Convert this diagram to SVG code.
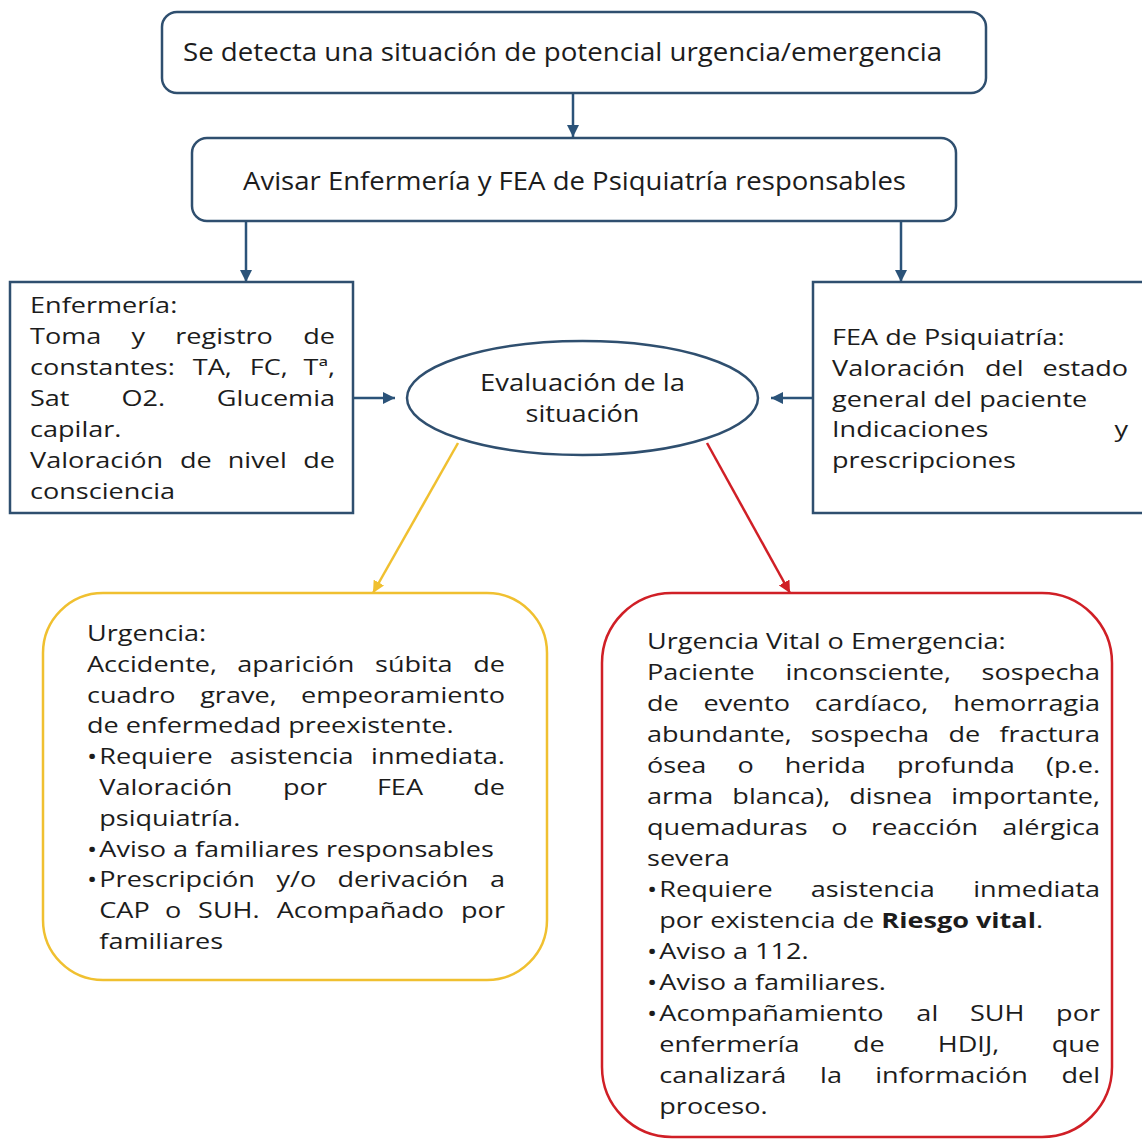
<svg xmlns="http://www.w3.org/2000/svg" width="1142" height="1147" viewBox="0 0 1142 1147">
<style>
.t{font-family:"Open Sans","Liberation Sans",sans-serif;font-size:22px;fill:#1c1c1c}
.h{font-family:"Open Sans","Liberation Sans",sans-serif;font-size:25px;fill:#1c1c1c}
.el{font-family:"Open Sans","Liberation Sans",sans-serif;font-size:23px;fill:#1c1c1c;text-anchor:middle}
.e{text-anchor:end}
.bd{font-weight:bold}
.blue{fill:#fff;stroke:#2f4f6f;stroke-width:2.5}
.conn{fill:none;stroke-width:2.5}
</style>
<defs>
<marker id="ab" markerUnits="userSpaceOnUse" markerWidth="12" markerHeight="12" refX="12" refY="6" orient="auto"><path d="M0,0 L12,6 L0,12 z" fill="#2b5379"/></marker>
<marker id="ay" markerUnits="userSpaceOnUse" markerWidth="12" markerHeight="12" refX="12" refY="6" orient="auto"><path d="M0,0 L12,6 L0,12 z" fill="#f0c030"/></marker>
<marker id="ar" markerUnits="userSpaceOnUse" markerWidth="12" markerHeight="12" refX="12" refY="6" orient="auto"><path d="M0,0 L12,6 L0,12 z" fill="#d01f26"/></marker>
</defs>
<rect width="1142" height="1147" fill="#fff"/>

<g id="connectors">
<line class="conn" x1="573" y1="93" x2="573" y2="137" stroke="#2b5379" marker-end="url(#ab)"/>
<line class="conn" x1="246" y1="221" x2="246" y2="282" stroke="#2b5379" marker-end="url(#ab)"/>
<line class="conn" x1="901" y1="221" x2="901" y2="282" stroke="#2b5379" marker-end="url(#ab)"/>
<line class="conn" x1="353" y1="398" x2="395" y2="398" stroke="#2b5379" marker-end="url(#ab)"/>
<line class="conn" x1="813" y1="398" x2="771" y2="398" stroke="#2b5379" marker-end="url(#ab)"/>
<line class="conn" x1="458" y1="443" x2="373" y2="593" stroke="#f0c030" marker-end="url(#ay)"/>
<line class="conn" x1="707" y1="443" x2="790" y2="593" stroke="#d01f26" marker-end="url(#ar)"/>
</g>

<g id="detecta">
<rect class="blue" x="162" y="12" width="824" height="81" rx="15"/>
<text class="h" x="183" y="61" textLength="759" lengthAdjust="spacingAndGlyphs">Se detecta una situación de potencial urgencia/emergencia</text>
</g>

<g id="avisar">
<rect class="blue" x="192" y="138" width="764" height="83" rx="15"/>
<text class="h" x="243" y="190" textLength="663" lengthAdjust="spacingAndGlyphs">Avisar Enfermería y FEA de Psiquiatría responsables</text>
</g>

<g id="enfermeria">
<rect class="blue" x="10" y="282" width="343" height="231"/>
<g class="t" transform="translate(30,0) scale(1.23,1)">
<text x="0" y="313">Enfermería:</text>
<text y="344"><tspan x="0">Toma</tspan><tspan x="82.5">y</tspan><tspan x="118.1">registro</tspan></text>
<text class="e" x="248" y="344">de</text>
<text y="375"><tspan x="0">constantes:</tspan><tspan x="132.4">TA,</tspan><tspan x="178.6">FC,</tspan></text>
<text class="e" x="248" y="375">Tª,</text>
<text y="406"><tspan x="0">Sat</tspan><tspan x="74.3">O2.</tspan></text>
<text class="e" x="248" y="406">Glucemia</text>
<text x="0" y="437">capilar.</text>
<text y="468"><tspan x="0">Valoración</tspan><tspan x="121.9">de</tspan><tspan x="160.8">nivel</tspan></text>
<text class="e" x="248" y="468">de</text>
<text x="0" y="499">consciencia</text>
</g>
</g>

<g id="evaluacion">
<ellipse cx="582.5" cy="398" rx="175.5" ry="57" fill="#fff" stroke="#2f4f6f" stroke-width="2.5"/>
<text class="el" x="582.5" y="391" textLength="205" lengthAdjust="spacingAndGlyphs">Evaluación de la</text>
<text class="el" x="582.5" y="422" textLength="114" lengthAdjust="spacingAndGlyphs">situación</text>
</g>

<g id="fea">
<rect class="blue" x="813" y="282" width="340" height="231"/>
<g class="t" transform="translate(832,0) scale(1.23,1)">
<text x="0" y="345">FEA de Psiquiatría:</text>
<text y="376"><tspan x="0">Valoración</tspan><tspan x="124.3">del</tspan></text>
<text class="e" x="240.7" y="376">estado</text>
<text x="0" y="407">general del paciente</text>
<text x="0" y="437">Indicaciones</text>
<text class="e" x="240.7" y="437">y</text>
<text x="0" y="468">prescripciones</text>
</g>
</g>

<g id="urgencia">
<rect x="43" y="593" width="504" height="387" rx="60" fill="#fff" stroke="#f0c030" stroke-width="2.5"/>
<g class="t" transform="translate(87,0) scale(1.23,1)">
<text x="0" y="641">Urgencia:</text>
<text y="672"><tspan x="0">Accidente,</tspan><tspan x="122.1">aparición</tspan><tspan x="234.2">súbita</tspan></text>
<text class="e" x="339.8" y="672">de</text>
<text y="703"><tspan x="0">cuadro</tspan><tspan x="92">grave,</tspan></text>
<text class="e" x="339.8" y="703">empeoramiento</text>
<text x="0" y="733">de enfermedad preexistente.</text>
<text x="0" y="764">•</text>
<text y="764"><tspan x="10">Requiere</tspan><tspan x="116">asistencia</tspan></text>
<text class="e" x="339.8" y="764">inmediata.</text>
<text y="795"><tspan x="10">Valoración</tspan><tspan x="159.4">por</tspan><tspan x="235.7">FEA</tspan></text>
<text class="e" x="339.8" y="795">de</text>
<text x="10" y="826">psiquiatría.</text>
<text x="0" y="857">•</text>
<text x="10" y="857">Aviso a familiares responsables</text>
<text x="0" y="887">•</text>
<text y="887"><tspan x="10">Prescripción</tspan><tspan x="154">y/o</tspan><tspan x="203.7">derivación</tspan></text>
<text class="e" x="339.8" y="887">a</text>
<text y="918"><tspan x="10">CAP</tspan><tspan x="63.5">o</tspan><tspan x="90.3">SUH.</tspan><tspan x="154.2">Acompañado</tspan></text>
<text class="e" x="339.8" y="918">por</text>
<text x="10" y="949">familiares</text>
</g>
</g>

<g id="emergencia">
<rect x="602" y="593" width="510" height="544" rx="70" fill="#fff" stroke="#d01f26" stroke-width="2.5"/>
<g class="t" transform="translate(647,0) scale(1.23,1)">
<text x="0" y="649">Urgencia Vital o Emergencia:</text>
<text y="680"><tspan x="0">Paciente</tspan><tspan x="112.6">inconsciente,</tspan></text>
<text class="e" x="368.3" y="680">sospecha</text>
<text y="711"><tspan x="0">de</tspan><tspan x="46">evento</tspan><tspan x="136.3">cardíaco,</tspan></text>
<text class="e" x="368.3" y="711">hemorragia</text>
<text y="742"><tspan x="0">abundante,</tspan><tspan x="133.1">sospecha</tspan><tspan x="245.1">de</tspan></text>
<text class="e" x="368.3" y="742">fractura</text>
<text y="773"><tspan x="0">ósea</tspan><tspan x="73.5">o</tspan><tspan x="111.9">herida</tspan><tspan x="203.3">profunda</tspan></text>
<text class="e" x="368.3" y="773">(p.e.</text>
<text y="804"><tspan x="0">arma</tspan><tspan x="69.4">blanca),</tspan><tspan x="164.5">disnea</tspan></text>
<text class="e" x="368.3" y="804">importante,</text>
<text y="835"><tspan x="0">quemaduras</tspan><tspan x="149.8">o</tspan><tspan x="182.2">reacción</tspan></text>
<text class="e" x="368.3" y="835">alérgica</text>
<text x="0" y="866">severa</text>
<text x="0" y="897">•</text>
<text y="897"><tspan x="10">Requiere</tspan><tspan x="133.2">asistencia</tspan></text>
<text class="e" x="368.3" y="897">inmediata</text>
<text x="10" y="928">por existencia de <tspan class="bd">Riesgo vital</tspan>.</text>
<text x="0" y="959">•</text>
<text x="10" y="959">Aviso a 112.</text>
<text x="0" y="990">•</text>
<text x="10" y="990">Aviso a familiares.</text>
<text x="0" y="1021">•</text>
<text y="1021"><tspan x="10">Acompañamiento</tspan><tspan x="219">al</tspan><tspan x="262.6">SUH</tspan></text>
<text class="e" x="368.3" y="1021">por</text>
<text y="1052"><tspan x="10">enfermería</tspan><tspan x="167.4">de</tspan><tspan x="236.4">HDIJ,</tspan></text>
<text class="e" x="368.3" y="1052">que</text>
<text y="1083"><tspan x="10">canalizará</tspan><tspan x="140.7">la</tspan><tspan x="185.6">información</tspan></text>
<text class="e" x="368.3" y="1083">del</text>
<text x="10" y="1114">proceso.</text>
</g>
</g>
</svg>
